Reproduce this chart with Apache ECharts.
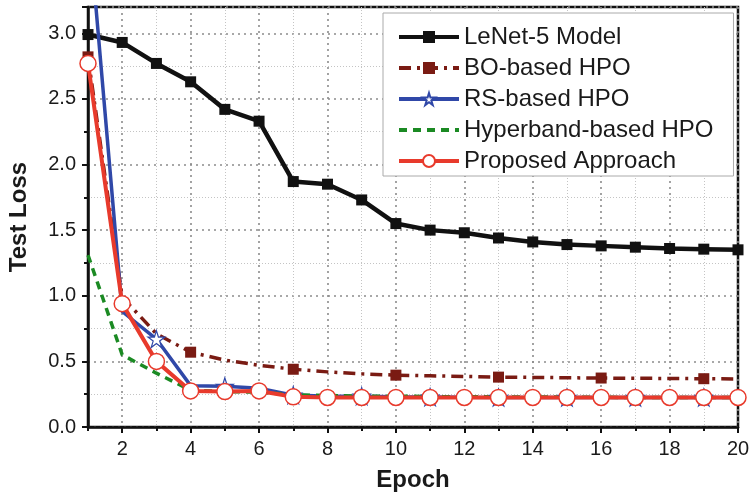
<!DOCTYPE html>
<html>
<head>
<meta charset="utf-8">
<script src="https://cdn.jsdelivr.net/npm/echarts@6/dist/echarts.min.js"></script>
<style>
  html, body { margin: 0; padding: 0; background: #fff; }
  #chart { width: 751px; height: 492px; }
</style>
</head>
<body>
<div id="chart"></div>
<script>
const epochs = ["1", "2", "3", "4", "5", "6", "7", "8", "9", "10",
  "11", "12", "13", "14", "15", "16", "17", "18", "19", "20"];

const lenet = [2.99, 2.93, 2.77, 2.63, 2.42, 2.33, 1.87, 1.85, 1.73, 1.55,
  1.5, 1.48, 1.44, 1.41, 1.39, 1.38, 1.37, 1.36, 1.355, 1.35];
const boHpo = [2.82, 0.99, 0.71, 0.57, 0.51, 0.47, 0.44, 0.42, 0.405, 0.395,
  0.39, 0.385, 0.38, 0.378, 0.375, 0.373, 0.371, 0.37, 0.368, 0.366];
const rsHpo = [3.9, 0.88, 0.67, 0.315, 0.31, 0.295, 0.243, 0.235, 0.235, 0.23,
  0.228, 0.226, 0.225, 0.225, 0.225, 0.225, 0.225, 0.225, 0.225, 0.225];
const hyperbandHpo = [1.31, 0.55, 0.41, 0.28, 0.27, 0.265, 0.245, 0.24, 0.235, 0.235,
  0.232, 0.23, 0.23, 0.228, 0.228, 0.226, 0.225, 0.225, 0.225, 0.225];
const proposed = [2.77, 0.94, 0.5, 0.275, 0.27, 0.275, 0.23, 0.225, 0.225, 0.225,
  0.225, 0.225, 0.225, 0.225, 0.225, 0.225, 0.225, 0.225, 0.225, 0.225];

const boMarks = [1, 4, 7, 10, 13, 16, 19];
const rsMarks = [3, 5, 7, 9, 11, 13, 15, 17, 19];

const STAR = "path://M50,2 L61.2,36.5 L97.6,36.5 L68.2,57.9 L79.4,92.5 L50,71.1 L20.6,92.5 L31.8,57.9 L2.4,36.5 L38.8,36.5 Z";

function marked(values, marks) {
  return values.map((v, i) => (marks.includes(i + 1) ? v : { value: v, symbol: "none" }));
}

const isEven = (i) => (i + 1) % 2 === 0;
const isOdd = (i) => (i + 1) % 2 === 1;

const font = "'Liberation Sans', Arial, sans-serif";
const majorGrid = { show: true, lineStyle: { color: "#8c8c8c", width: 1.6, type: [2, 4] } };
const minorGrid = { show: true, lineStyle: { color: "#c4c4c4", width: 1, type: [1, 2] } };

const chart = echarts.init(document.getElementById("chart"));
chart.setOption({
  animation: false,
  grid: {
    left: 88, right: 13, top: 7, bottom: 65,
    outerBoundsMode: "none",
    containLabel: false,
    show: true, borderColor: "#111", borderWidth: 2.5,
  },
  legend: {
    left: 383, top: 13,
    orient: "vertical",
    padding: [12, 20, 3, 14],
    itemWidth: 60, itemHeight: 15, itemGap: 7,
    backgroundColor: "#fff",
    borderColor: "#aaa", borderWidth: 1,
    lineStyle: { width: 4 },
    textStyle: { fontFamily: font, fontSize: 24, color: "#1a1a1a", lineHeight: 24 },
  },
  xAxis: [
    {
      type: "category",
      data: epochs,
      position: "bottom",
      boundaryGap: false,
      name: "Epoch",
      nameLocation: "middle",
      nameGap: 41,
      nameTextStyle: { fontFamily: font, fontSize: 24, fontWeight: "bold", color: "#1a1a1a" },
      axisLine: { lineStyle: { color: "#111", width: 2.5 } },
      axisTick: { interval: isEven, length: 6, lineStyle: { color: "#111", width: 2 } },
      axisLabel: { interval: isEven, fontFamily: font, fontSize: 20, color: "#1a1a1a", margin: 12 },
      splitLine: { ...majorGrid, interval: isEven },
    },
    {
      type: "category",
      data: epochs,
      position: "bottom",
      boundaryGap: false,
      axisLine: { show: false },
      axisTick: { interval: isOdd, length: 4, lineStyle: { color: "#111", width: 2 } },
      axisLabel: { show: false },
      splitLine: { ...minorGrid, interval: isOdd },
    },
  ],
  yAxis: {
    type: "value",
    min: 0, max: 3.2, interval: 0.5,
    name: "Test Loss",
    nameLocation: "middle",
    nameGap: 57,
    nameTextStyle: { fontFamily: font, fontSize: 24, fontWeight: "bold", color: "#1a1a1a" },
    axisLine: { show: true, lineStyle: { color: "#111", width: 2.5 } },
    axisTick: { show: true, length: 6, lineStyle: { color: "#111", width: 2 } },
    minorTick: { show: true, splitNumber: 2, length: 4, lineStyle: { color: "#111", width: 2 } },
    axisLabel: {
      fontFamily: font, fontSize: 20, color: "#1a1a1a", margin: 12,
      showMaxLabel: false,
      formatter: (v) => v.toFixed(1),
    },
    splitLine: majorGrid,
    minorSplitLine: minorGrid,
  },
  series: [
    {
      name: "LeNet-5 Model",
      type: "line",
      data: lenet,
      symbol: "rect",
      symbolSize: 11,
      itemStyle: { color: "#111" },
      lineStyle: { color: "#111", width: 4.5 },
    },
    {
      name: "BO-based HPO",
      type: "line",
      data: marked(boHpo, boMarks),
      symbol: "rect",
      symbolSize: 11,
      itemStyle: { color: "#7a1b13" },
      lineStyle: { color: "#7a1b13", width: 3.5, type: [12, 6, 3, 6] },
    },
    {
      name: "RS-based HPO",
      type: "line",
      data: marked(rsHpo, rsMarks),
      symbol: STAR,
      symbolSize: 17,
      itemStyle: { color: "#fff", borderColor: "#3048a8", borderWidth: 1.2 },
      lineStyle: { color: "#3048a8", width: 3.5 },
    },
    {
      name: "Hyperband-based HPO",
      type: "line",
      data: hyperbandHpo,
      symbol: "circle",
      showSymbol: false,
      itemStyle: { color: "rgba(0,0,0,0)" },
      lineStyle: { color: "#1b8a23", width: 3.5, type: [8, 6] },
    },
    {
      name: "Proposed Approach",
      type: "line",
      data: proposed,
      symbol: "circle",
      symbolSize: 16,
      itemStyle: { color: "#fff", borderColor: "#e83a2c", borderWidth: 1.5 },
      lineStyle: { color: "#e83a2c", width: 4 },
    },
  ],
});
</script>
</body>
</html>
